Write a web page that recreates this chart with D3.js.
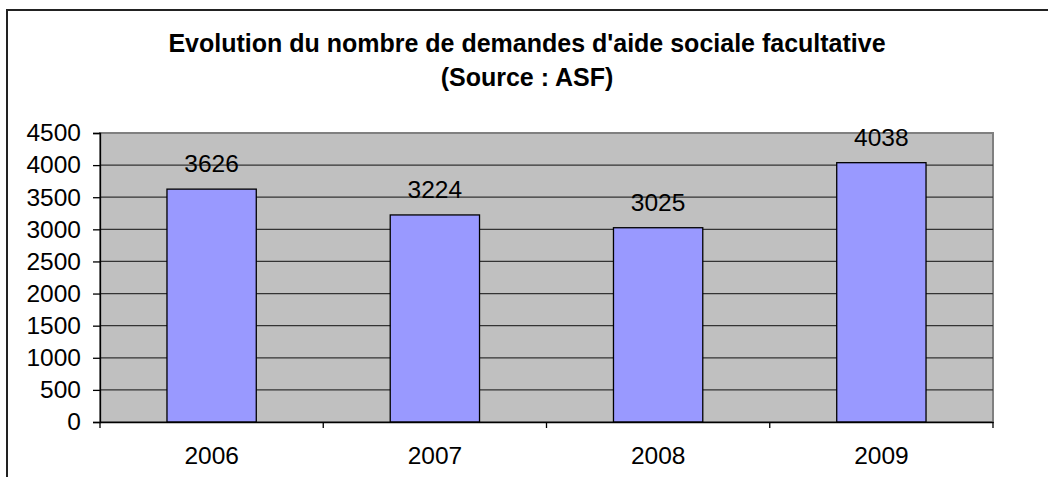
<!DOCTYPE html>
<html>
<head>
<meta charset="utf-8">
<script src="https://d3js.org/d3.v7.min.js"></script>
<style>
    body { margin:0; background:white; }
    svg text { font-family: Arial, "Liberation Sans", sans-serif; fill:black; }
    .title { font-weight:bold; font-size:25px; }
    .tick-label { font-size:24.5px; }
</style>
</head>
<body>
<svg id="barChart"></svg>
<script>

// data
var years = ["2006","2007","2008","2009"];
var demandes = [3626, 3224, 3025, 4038];
var yTicks = [0,500,1000,1500,2000,2500,3000,3500,4000,4500];
var titleLines = ["Evolution du nombre de demandes d'aide sociale facultative", "(Source : ASF)"];

var initChart = function()
{
    //the size of the screen
    var screen = {width:1048, height:477};

    //where the plot area sits
    var margins = {top:133, bottom:55, left:100, right:55};

    var graph =
    {
        width:screen.width-margins.left-margins.right,
        height:screen.height-margins.top-margins.bottom
    }

    var svg = d3.select("svg#barChart")
        .attr("width",screen.width)
        .attr("height",screen.height)
        .style("display","block");

    //outer chart border (cut off on the right and bottom)
    svg.append("rect")
        .attr("x",7)
        .attr("y",10)
        .attr("width",1200)
        .attr("height",800)
        .attr("fill","white")
        .attr("stroke","#222")
        .attr("stroke-width",2);

    //title
    svg.append("g")
        .selectAll("text")
        .data(titleLines)
        .enter()
        .append("text")
        .classed("title",true)
        .attr("text-anchor","middle")
        .attr("x",527)
        .attr("y",function(d,i){ return 52 + i*34; })
        .text(function(d){ return d; });

    var xScale = d3.scaleBand()
        .domain(years)
        .range([0,graph.width])
        .paddingInner(0.6)
        .paddingOuter(0.3);

    var bandScale = d3.scaleBand()
        .domain(years)
        .range([0,graph.width]);

    var yScale = d3.scaleLinear()
        .domain([0,4500])
        .range([graph.height,0]);

    var g = svg.append("g")
        .classed("graph",true)
        .attr("transform","translate("+margins.left+","+margins.top+")");

    //grey plot background
    g.append("rect")
        .attr("width",graph.width)
        .attr("height",graph.height)
        .attr("fill","#c0c0c0")
        .attr("stroke","#808080")
        .attr("stroke-width",2);

    //gridlines
    g.append("g")
        .selectAll("line")
        .data(yTicks.slice(1,yTicks.length-1))
        .enter()
        .append("line")
        .attr("x1",0)
        .attr("x2",graph.width)
        .attr("y1",function(d){ return yScale(d); })
        .attr("y2",function(d){ return yScale(d); })
        .attr("stroke","#333")
        .attr("stroke-width",1.3);

    //bars
    g.append("g")
        .selectAll("rect")
        .data(demandes)
        .enter()
        .append("rect")
        .attr("x",function(d,i){ return xScale(years[i]); })
        .attr("y",function(d){ return yScale(d); })
        .attr("width",xScale.bandwidth())
        .attr("height",function(d){ return graph.height-yScale(d); })
        .attr("fill","#9999ff")
        .attr("stroke","black")
        .attr("stroke-width",1.3);

    //value labels
    g.append("g")
        .selectAll("text")
        .data(demandes)
        .enter()
        .append("text")
        .classed("tick-label",true)
        .attr("text-anchor","middle")
        .attr("x",function(d,i){ return xScale(years[i])+xScale.bandwidth()/2; })
        .attr("y",function(d){ return yScale(d)-17; })
        .text(function(d){ return d; });

    //y axis
    var yAxis = d3.axisLeft(yScale)
        .tickValues(yTicks)
        .tickFormat(d3.format("d"))
        .tickSize(7)
        .tickPadding(12);

    var yG = g.append("g").call(yAxis);
    yG.select(".domain").attr("stroke","black").attr("stroke-width",1.3);
    yG.selectAll(".tick line").attr("stroke","black").attr("stroke-width",1.3);
    yG.selectAll(".tick text")
        .classed("tick-label",true)
        .attr("font-size",null)
        .attr("font-family",null);

    //x axis, ticks sit on the category boundaries
    var xAxis = d3.axisBottom(xScale).tickSize(0).tickPadding(25);

    var xG = g.append("g")
        .attr("transform","translate(0,"+graph.height+")")
        .call(xAxis);
    xG.select(".domain").attr("stroke","black").attr("stroke-width",1.5);
    xG.selectAll(".tick text")
        .classed("tick-label",true)
        .attr("font-size",null)
        .attr("font-family",null);

    xG.append("g")
        .selectAll("line")
        .data(years.concat(["end"]))
        .enter()
        .append("line")
        .attr("x1",function(d,i){ return i*bandScale.step(); })
        .attr("x2",function(d,i){ return i*bandScale.step(); })
        .attr("y1",0)
        .attr("y2",6)
        .attr("stroke","black")
        .attr("stroke-width",1.3);
}

initChart();

</script>
</body>
</html>
